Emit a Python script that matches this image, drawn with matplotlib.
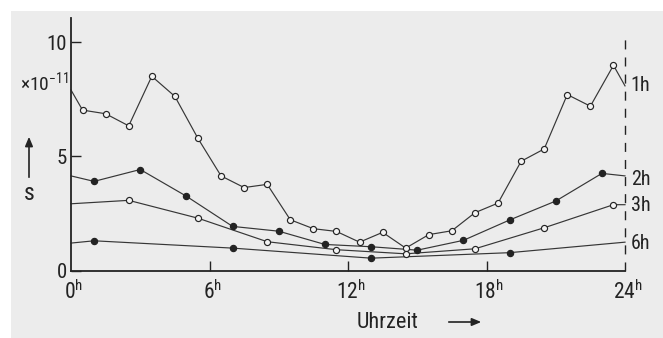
import matplotlib
matplotlib.use("Agg")
import matplotlib.pyplot as plt
from matplotlib import font_manager
from matplotlib.patches import Rectangle, FancyArrowPatch

# Mean values of s (x 10^-11) over the day for different averaging intervals
hours_1h = [0.5, 1.5, 2.5, 3.5, 4.5, 5.5, 6.5, 7.5, 8.5, 9.5, 10.5, 11.5,
            12.5, 13.5, 14.5, 15.5, 16.5, 17.5, 18.5, 19.5, 20.5, 21.5, 22.5, 23.5]
s_1h = [7.02, 6.86, 6.33, 8.50, 7.62, 5.78, 4.14, 3.63, 3.77, 2.22, 1.83, 1.71,
        1.24, 1.67, 0.98, 1.57, 1.74, 2.53, 2.95, 4.78, 5.32, 7.70, 7.19, 8.98]
ends_1h = [7.90, 8.08]

hours_2h = [1, 3, 5, 7, 9, 11, 13, 15, 17, 19, 21, 23]
s_2h = [3.90, 4.42, 3.25, 1.93, 1.72, 1.14, 1.04, 0.89, 1.32, 2.21, 3.04, 4.25]
ends_2h = [4.14, 4.14]

hours_3h = [2.5, 5.5, 8.5, 11.5, 14.5, 17.5, 20.5, 23.5]
s_3h = [3.07, 2.29, 1.26, 0.91, 0.73, 0.95, 1.87, 2.88]
ends_3h = [2.92, 2.88]

hours_6h = [1, 7, 13, 19]
s_6h = [1.30, 0.98, 0.54, 0.78]
ends_6h = [1.20, 1.24]

series = [
    ("1h", hours_1h, s_1h, ends_1h, "open"),
    ("2h", hours_2h, s_2h, ends_2h, "filled"),
    ("3h", hours_3h, s_3h, ends_3h, "open"),
    ("6h", hours_6h, s_6h, ends_6h, "filled"),
]
label_y = {"1h": 8.1, "2h": 4.0, "3h": 2.85, "6h": 1.2}

y_ticks = [0, 5, 10]
x_ticks = [6, 12, 18]
x_ticklabels = ["0", "6", "12", "18", "24"]

names = {f.name for f in font_manager.fontManager.ttflist}
FONT = next((n for n in ("Liberation Sans Narrow", "Roboto Condensed",
                         "Liberation Sans", "DejaVu Sans") if n in names),
            "DejaVu Sans")
plt.rcParams["font.family"] = [FONT, "DejaVu Sans"]
plt.rcParams["mathtext.fontset"] = "custom"
plt.rcParams["mathtext.rm"] = FONT

INK = "#232323"
LINE = "#363636"
W, H = 663, 338

fig = plt.figure(figsize=(W / 100, H / 100), dpi=100, facecolor="white")
# paper tone of the printed page
fig.patches.append(Rectangle((11 / W, 0), 1 - 11 / W, 1 - 11 / H,
                             transform=fig.transFigure, facecolor="#ececec",
                             edgecolor="none", zorder=-5))

x0, x1 = 71, 625
y0, ytop = 270.5, 18
ppu = 22.85
ax = fig.add_axes([x0 / W, (H - y0) / H, (x1 - x0) / W, (y0 - ytop) / H])
ax.set_zorder(2)
ax.set_facecolor("none")
ax.set_xlim(0, 24)
ax.set_ylim(0, (y0 - ytop) / ppu)

for name, xs, ys, ends, style in series:
    px = [0] + list(xs) + [24]
    py = [ends[0]] + list(ys) + [ends[1]]
    ax.plot(px, py, color=LINE, lw=0.85, zorder=2, clip_on=False)
    face = "#f4f4f4" if style == "open" else INK
    ax.plot(xs, ys, ls="none", marker="o", ms=4.4 if style == "open" else 4.5,
            mfc=face, mec=INK, mew=0.85, zorder=3, clip_on=False)
    ax.text(24.25, label_y[name], name, fontsize=14.5, color=INK,
            ha="left", va="center")

# dashed marker at midnight
ax.plot([24, 24], [0, (y0 - 38) / ppu], color=INK, lw=1.0,
        dashes=(6.5, 5.8), clip_on=False, zorder=2)

for side in ("top", "right"):
    ax.spines[side].set_visible(False)
for side in ("left", "bottom"):
    ax.spines[side].set_color(INK)
    ax.spines[side].set_linewidth(1.3)

ax.set_yticks(y_ticks)
ax.set_yticklabels([str(v) for v in y_ticks])
ax.tick_params(axis="y", direction="in", length=7, width=1.0, color=INK,
               labelsize=15, labelcolor=INK, pad=3)
ax.set_xticks(x_ticks)
ax.set_xticklabels([])
ax.tick_params(axis="x", direction="in", length=7, width=1.0, color=INK)

for i, lab in enumerate(x_ticklabels):
    ax.text(i * 6 + 0.12, -0.42, r"$\mathregular{%s^h}$" % lab, fontsize=15.5,
            color=INK, ha="center", va="top")

fig.text(44 / W, 1 - 82 / H, r"$\mathregular{\times 10^{-11}}$", fontsize=14,
         color=INK, ha="center", va="center")

# quantity arrow and symbol on the left
fig.add_artist(FancyArrowPatch(
    (29 / W, 1 - 180 / H), (29 / W, 1 - 134 / H), transform=fig.transFigure,
    arrowstyle="-|>,head_length=5.5,head_width=2.3", color=INK, lw=1.2))
fig.text(29 / W, 1 - 193 / H, "s", fontsize=17, color=INK,
         ha="center", va="center")

fig.text(388 / W, 1 - 322 / H, "Uhrzeit", fontsize=16, color=INK,
         ha="center", va="center")
fig.add_artist(FancyArrowPatch(
    (446 / W, 1 - 322 / H), (484 / W, 1 - 322 / H), transform=fig.transFigure,
    arrowstyle="-|>,head_length=5.5,head_width=2.3", color=INK, lw=1.2))

fig.savefig("out.png", dpi=100, facecolor="white")
